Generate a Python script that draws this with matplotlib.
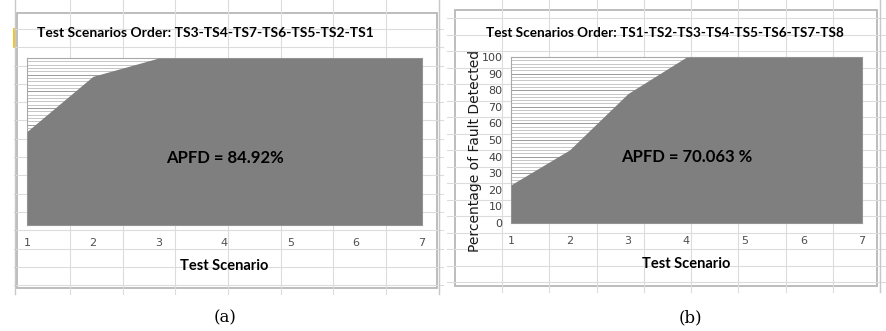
import numpy as np
import matplotlib
matplotlib.use('Agg')
import matplotlib.pyplot as plt
from matplotlib.patches import Rectangle

# datos
escenarios = [1, 2, 3, 4, 5, 6, 7]
falla_a = [56, 89, 100, 100, 100, 100, 100]
falla_b = [23, 44, 78, 100, 100, 100, 100]
titulo_a = "Test Scenarios Order: TS3-TS4-TS7-TS6-TS5-TS2-TS1"
titulo_b = "Test Scenarios Order: TS1-TS2-TS3-TS4-TS5-TS6-TS7-TS8"
apfd_a = "APFD = 84.92%"
apfd_b = "APFD = 70.063 %"

W, H = 887, 331
fig = plt.figure(figsize=(W / 100, H / 100), dpi=100)
fuente = ['Lato', 'DejaVu Sans']

# fondo: cuadricula de la hoja de calculo
fondo = fig.add_axes([0, 0, 1, 1], zorder=0)
fondo.set_xlim(0, W)
fondo.set_ylim(H, 0)
fondo.axis('off')
gris_hoja = '#dcdcdc'
for x in np.arange(70, 440, 52.7):
    fondo.plot([x, x], [0, 294], color=gris_hoja, lw=0.8)
for y in np.arange(29, 292, 18.3):
    fondo.plot([14, 443], [y, y], color=gris_hoja, lw=0.8)
fondo.plot([15, 15], [0, 294], color='#c8c8c8', lw=1)
fondo.plot([439, 439], [0, 294], color='#c8c8c8', lw=1)
fondo.add_patch(Rectangle((13.5, 28), 3, 20, color='#f5c518', lw=0))
for x in np.arange(502, 887, 47.3):
    fondo.plot([x, x], [0, 292], color=gris_hoja, lw=0.8)
for y in np.arange(18, 290, 16.5):
    fondo.plot([447, 887], [y, y], color=gris_hoja, lw=0.8)
fondo.plot([880, 880], [0, 292], color='#c8c8c8', lw=1)

# paneles de los graficos
fondo.add_patch(Rectangle((17, 13), 420, 275, facecolor='white',
                          edgecolor='#b8b8b8', lw=1.3))
fondo.add_patch(Rectangle((455, 10), 422, 276, facecolor='white',
                          edgecolor='#b8b8b8', lw=1.3))

# leyendas (a) y (b)
fondo.text(225, 318, "(a)", ha='center', va='center', fontsize=12,
           family='DejaVu Serif')
fondo.text(690, 318, "(b)", ha='center', va='center', fontsize=12,
           family='DejaVu Serif')


def dibujar(pos, valores, apfd, con_y):
    x0, y0, x1, y1 = pos
    ax = fig.add_axes([x0 / W, 1 - y1 / H, (x1 - x0) / W, (y1 - y0) / H],
                      zorder=2)
    ax.set_facecolor('white')
    ax.fill_between(escenarios, valores, 0, color='#7f7f7f', lw=0, zorder=3)
    ax.set_xlim(1, 7)
    ax.set_ylim(0, 100)
    ax.set_yticks(np.arange(0, 101, 10))
    ax.set_yticks(np.arange(0, 101, 2), minor=True)
    ax.grid(True, axis='y', which='major', color='#9a9a9a', lw=0.7, zorder=1)
    ax.grid(True, axis='y', which='minor', color='#bdbdbd', lw=0.6, zorder=1)
    ax.set_axisbelow(True)
    ax.set_xticks(escenarios)
    ax.tick_params(axis='x', which='both', length=0, labelsize=8,
                   labelcolor='#505050', pad=9)
    ax.tick_params(axis='y', which='both', length=0, labelsize=8,
                   labelcolor='#404040', pad=6)
    for s in ax.spines.values():
        s.set_color('#a8a8a8')
        s.set_linewidth(0.8)
    if not con_y:
        ax.set_yticklabels([])
    else:
        ax.text(-0.102, 0.434, "Percentage of Fault Detected",
                transform=ax.transAxes, rotation=90, ha='center',
                va='center', fontsize=10, family='DejaVu Sans',
                color='#1a1a1a')
    ax.set_xlabel("Test Scenario", fontsize=10.5, fontweight='bold',
                  family=fuente, labelpad=8)
    ax.text(0.5, 0.4, apfd, transform=ax.transAxes, ha='center', va='center',
            fontsize=12, fontweight='bold', family=fuente, zorder=5)
    return ax


ax_a = dibujar((27, 58, 422, 225), falla_a, apfd_a, False)
ax_b = dibujar((511, 57, 862, 223), falla_b, apfd_b, True)

fondo.text(37, 33, titulo_a, ha='left', va='center', fontsize=10,
           fontweight='bold', family=fuente)
fondo.text(665, 33, titulo_b, ha='center', va='center', fontsize=9.7,
           fontweight='bold', family=fuente)

fig.savefig('out.png', dpi=100)
